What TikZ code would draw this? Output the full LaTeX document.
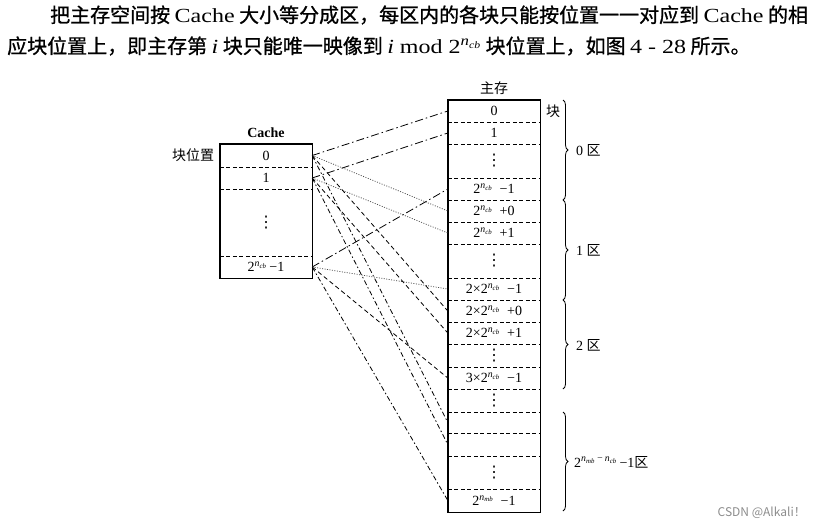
\documentclass[tikz,border=0pt]{standalone}
\usepackage{fontspec}
\setmainfont{Liberation Serif}
\newfontfamily\cjk{Noto Sans CJK SC}
\newfontfamily\cjkb[FakeBold=1]{Noto Sans CJK SC}
\newfontfamily\latw[FakeStretch=1.2]{Liberation Serif}
\newfontfamily\dvs{DejaVu Sans}
\usetikzlibrary{decorations.pathreplacing,calc}
\newcommand{\nsup}[1]{\textsuperscript{\itshape n\textsubscript{#1}}}
\newcommand{\vd}{{\dvs\fontsize{16}{18}\selectfont ⋮}}
\begin{document}
\begin{tikzpicture}[x=1pt,y=-1pt,
 crow/.style={minimum width=92pt, inner sep=0pt, font=\fontsize{14}{16}\selectfont},
 mrow/.style={minimum width=92pt, inner sep=0pt, font=\fontsize{14}{16}\selectfont},
 box/.style={draw, line width=1.4pt},
 div/.style={dash pattern=on 4pt off 2.5pt, line width=0.8pt},
 zA/.style={line width=0.8pt, dash pattern=on 8pt off 3pt on 1.5pt off 3pt},
 zB/.style={line width=0.75pt, dash pattern=on 1pt off 1.5pt, black!70},
 zC/.style={line width=0.8pt, dash pattern=on 4.5pt off 3pt},
 zD/.style={line width=0.8pt, dash pattern=on 5pt off 2.5pt on 1.5pt off 2.5pt},
 brc/.style={decorate, decoration={brace, amplitude=5pt}, line width=0.8pt},
 lab/.style={inner sep=0pt, font=\fontsize{14}{16}\selectfont},
 para/.style={inner sep=0pt, anchor=west, font=\fontsize{20}{24}\selectfont},
]
\useasboundingbox (0,0) rectangle (817,528);

% paragraph
\node[para] (p1) at (50,15) {\cjkb 把主存空间按\ {\latw Cache}\ 大小等分成区，每区内的各块只能按位置一一对应到\ {\latw Cache}\ 的相};
\node[para] (p2) at (7,46) {\cjkb 应块位置上，即主存第\ {\latw\itshape i}\ 块只能唯一映像到\ {\latw{\itshape i} mod 2\textsuperscript{\itshape n\textsubscript{cb}}}\ 块位置上，如图\ {\latw 4 - 28}\ 所示。};

% Cache (rows slightly shorter than their cells; dividers sit between them)
\node[crow, minimum height=21pt] (c0) at (266,155.5) {0};
\node[crow, minimum height=20pt] (c1) at (266,178) {1};
\node[crow, minimum height=65pt] (cd) at (266,222.5) {\vd};
\node[crow, minimum height=20pt] (c2) at (266,267) {2\nsup{cb}\,−1};
\draw[box] ($(c0.north west)+(0,-1)$) rectangle ($(c2.south east)+(0,1)$);
\draw[div] ($(c0.south west)!0.5!(c1.north west)$) -- ($(c0.south east)!0.5!(c1.north east)$);
\draw[div] ($(c1.south west)!0.5!(cd.north west)$) -- ($(c1.south east)!0.5!(cd.north east)$);
\draw[div] ($(cd.south west)!0.5!(c2.north west)$) -- ($(cd.south east)!0.5!(c2.north east)$);
\node[lab, font=\fontsize{14}{16}\selectfont\bfseries] (tCache) at (266,133) {Cache};
\node[lab] (tPos) at (193,155) {\cjk 块位置};

% Main memory
\node[mrow, minimum height=20pt] (m0) at (494,111) {0};
\node[mrow, minimum height=20pt] (m1) at (494,133) {1};
\node[mrow, minimum height=32pt] (md1) at (494,161) {\vd};
\node[mrow, minimum height=20pt] (m3) at (494,189) {2\nsup{cb}\ \ −1};
\node[mrow, minimum height=20pt] (m4) at (494,211) {2\nsup{cb}\ \ +0};
\node[mrow, minimum height=20pt] (m5) at (494,233) {2\nsup{cb}\ \ +1};
\node[mrow, minimum height=32pt] (md2) at (494,261) {\vd};
\node[mrow, minimum height=20pt] (m7) at (494,289) {2×2\nsup{cb}\ \ −1};
\node[mrow, minimum height=20pt] (m8) at (494,311) {2×2\nsup{cb}\ \ +0};
\node[mrow, minimum height=20pt] (m9) at (494,333) {2×2\nsup{cb}\ \ +1};
\node[mrow, minimum height=21pt] (md3) at (494,355.5) {\vd};
\node[mrow, minimum height=20pt] (m11) at (494,378) {3×2\nsup{cb}\ \ −1};
\node[mrow, minimum height=21pt] (md4) at (494,400.5) {\vd};
\node[mrow, minimum height=19pt] (m13) at (494,422.5) {};
\node[mrow, minimum height=21pt] (m14) at (494,444.5) {};
\node[mrow, minimum height=31pt] (md5) at (494,472.5) {\vd};
\node[mrow, minimum height=21pt] (m16) at (494,500.5) {2\nsup{mb}\ \ −1};
\draw[box] ($(m0.north west)+(0,-1)$) rectangle ($(m16.south east)+(0,1)$);
\foreach \a/\b in {m0/m1,m1/md1,md1/m3,m3/m4,m4/m5,m5/md2,md2/m7,m7/m8,m8/m9,m9/md3,md3/m11,m11/md4,md4/m13,m13/m14,m14/md5,md5/m16}
  \draw[div] ($(\a.south west)!0.5!(\b.north west)$) -- ($(\a.south east)!0.5!(\b.north east)$);
\node[lab] (tMain) at (494,88) {\cjk 主存};
\node[lab] (tBlk) at (553,111) {\cjk 块};

% braces
\coordinate (b0a) at (563,100); \coordinate (b0b) at (563,200);
\coordinate (b1a) at (563,200); \coordinate (b1b) at (563,300);
\coordinate (b2a) at (563,300); \coordinate (b2b) at (563,389);
\coordinate (b3a) at (563,412); \coordinate (b3b) at (563,511);
\draw[brc] (b0a) -- (b0b);
\draw[brc] (b1a) -- (b1b);
\draw[brc] (b2a) -- (b2b);
\draw[brc] (b3a) -- (b3b);
\node[lab, anchor=west] (z0) at (576,150) {0 {\cjk 区}};
\node[lab, anchor=west] (z1) at (576,250) {1 {\cjk 区}};
\node[lab, anchor=west] (z2) at (576,345) {2 {\cjk 区}};
\node[lab, anchor=west] (z3) at (574,462) {2\textsuperscript{\itshape n\textsubscript{mb}\,−\,n\textsubscript{cb}}\,−1{\cjk 区}};

% connectors
\draw[zA] (c0.east) -- (m0.west);
\draw[zA] (c1.east) -- (m1.west);
\draw[zA] (c2.east) -- (m3.west);
\draw[zB] (c0.east) -- (m4.west);
\draw[zB] (c1.east) -- (m5.west);
\draw[zB] (c2.east) -- (m7.west);
\draw[zC] (c0.east) -- (m8.west);
\draw[zC] (c1.east) -- (m9.west);
\draw[zC] (c2.east) -- (m11.west);
\draw[zD] (c0.east) -- (m13.west);
\draw[zD] (c1.east) -- (m14.west);
\draw[zD] (c2.east) -- (m16.west);

% watermark
\node[inner sep=0pt, anchor=east, text=black!45, font=\cjk\fontsize{12}{14}\selectfont] (wm) at (806,513) {CSDN @Alkali！};
\end{tikzpicture}
\end{document}
